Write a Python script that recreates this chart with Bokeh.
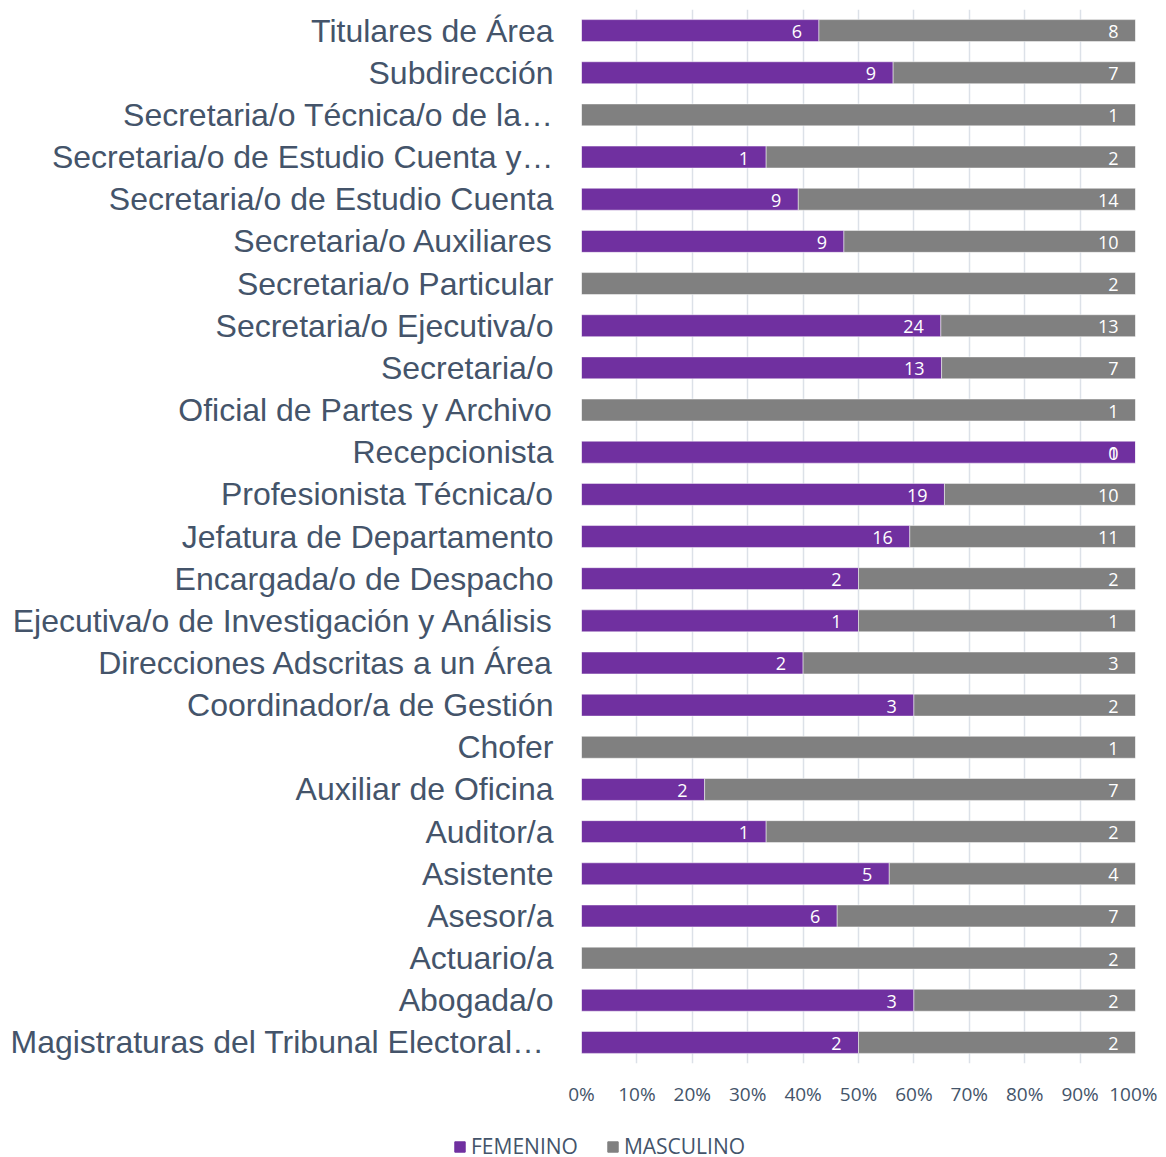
from bokeh.plotting import figure
from bokeh.layouts import row
from bokeh.models import (FactorRange, ColumnDataSource, NumeralTickFormatter, FixedTicker,
                          Legend, LegendItem, Spacer)
from bokeh.core.properties import value
from bokeh.embed import file_html
from bokeh.resources import INLINE

categories = [
    "Titulares de Área",
    "Subdirección",
    "Secretaria/o Técnica/o de la…",
    "Secretaria/o de Estudio Cuenta y…",
    "Secretaria/o de Estudio Cuenta",
    "Secretaria/o Auxiliares",
    "Secretaria/o Particular",
    "Secretaria/o Ejecutiva/o",
    "Secretaria/o",
    "Oficial de Partes y Archivo",
    "Recepcionista",
    "Profesionista Técnica/o",
    "Jefatura de Departamento",
    "Encargada/o de Despacho",
    "Ejecutiva/o de Investigación y Análisis",
    "Direcciones Adscritas a un Área",
    "Coordinador/a de Gestión",
    "Chofer",
    "Auxiliar de Oficina",
    "Auditor/a",
    "Asistente",
    "Asesor/a",
    "Actuario/a",
    "Abogada/o",
    "Magistraturas  del Tribunal Electoral…",
]
femenino = [6, 9, 0, 1, 9, 9, 0, 24, 13, 0, 1, 19, 16, 2, 1, 2, 3, 0, 2, 1, 5, 6, 0, 3, 2]
masculino = [8, 7, 1, 2, 14, 10, 2, 13, 7, 1, 0, 10, 11, 2, 1, 3, 2, 1, 7, 2, 4, 7, 2, 2, 2]
series_names = ["FEMENINO", "MASCULINO"]
x_ticks = [0, 0.1, 0.2, 0.3, 0.4, 0.5, 0.6, 0.7, 0.8, 0.9, 1.0]

PURPLE = "#7030A0"
GRAY = "#808080"
TEXT = "#44546A"

tot = [f + m for f, m in zip(femenino, masculino)]
fem_frac = [f / t for f, t in zip(femenino, tot)]
mas_frac = [m / t for m, t in zip(masculino, tot)]

src = ColumnDataSource(dict(cat=categories, fem=fem_frac, mas=mas_frac))

p = figure(
    frame_width=554, frame_height=1054,
    y_range=FactorRange(*list(reversed(categories))),
    x_range=(0, 1),
    output_backend="svg", toolbar_location=None,
    min_border_left=0, min_border_right=22, min_border_top=9, min_border_bottom=46,
)
p.outline_line_color = None
p.background_fill_color = "white"

r = p.hbar_stack(["fem", "mas"], y="cat", height=0.52, source=src,
                 color=[PURPLE, GRAY], line_color="white", line_width=0.8, line_alpha=0.6)

# data labels
lx, ly, lt = [], [], []
for c, f, fr, m in zip(categories, femenino, fem_frac, masculino):
    if f > 0:
        lx.append(fr); ly.append(c); lt.append(str(f))
    lx.append(1.0); ly.append(c); lt.append(str(m))
p.text(x=lx, y=ly, text=lt, text_color="white", text_font=value("Open Sans"),
       text_font_size="18px", text_align="right", text_baseline="middle",
       x_offset=-17, y_offset=1)

p.xgrid.ticker = FixedTicker(ticks=x_ticks)
p.xgrid.grid_line_color = "#DCE1E8"
p.xgrid.grid_line_width = 1.5
p.ygrid.grid_line_color = None

p.xaxis.ticker = FixedTicker(ticks=x_ticks)
p.xaxis.formatter = NumeralTickFormatter(format="0%")
p.xaxis.axis_line_color = None
p.xaxis.major_tick_line_color = None
p.xaxis.minor_tick_line_color = None
p.xaxis.major_label_text_font = "Open Sans"
p.xaxis.major_label_text_font_size = "19px"
p.xaxis.major_label_text_color = TEXT
p.xaxis.major_label_standoff = 11

p.yaxis.axis_line_color = None
p.yaxis.major_tick_line_color = None
p.yaxis.minor_tick_line_color = None
p.yaxis.major_label_text_font = "Liberation Sans"
p.yaxis.major_label_text_font_size = "32px"
p.yaxis.major_label_text_color = TEXT
p.yaxis.major_label_standoff = 22

# separate legend strip (own root, so no frame alignment with the chart)
p2 = figure(width=1150, height=56, x_range=(0, 1), y_range=(0, 1),
            output_backend="svg", toolbar_location=None, min_border=0)
p2.axis.visible = False
p2.grid.visible = False
p2.outline_line_color = None
# legend proxies placed outside the visible range
d1 = p2.rect(x=[-5], y=[-5], width=1, height=1, color=PURPLE)
d2 = p2.rect(x=[-5], y=[-5], width=1, height=1, color=GRAY)
legend = Legend(items=[LegendItem(label=series_names[0], renderers=[d1]),
                       LegendItem(label=series_names[1], renderers=[d2])],
                orientation="horizontal", location=(453, 5),
                label_text_font="Open Sans", label_text_font_size="21px",
                label_text_color=TEXT, glyph_width=13, glyph_height=13,
                spacing=28, label_standoff=5, border_line_color=None,
                background_fill_alpha=0, padding=0, margin=0)
p2.add_layout(legend, "center")

open("out.html", "w").write(file_html([row(Spacer(width=7), p, spacing=0), p2], INLINE))
